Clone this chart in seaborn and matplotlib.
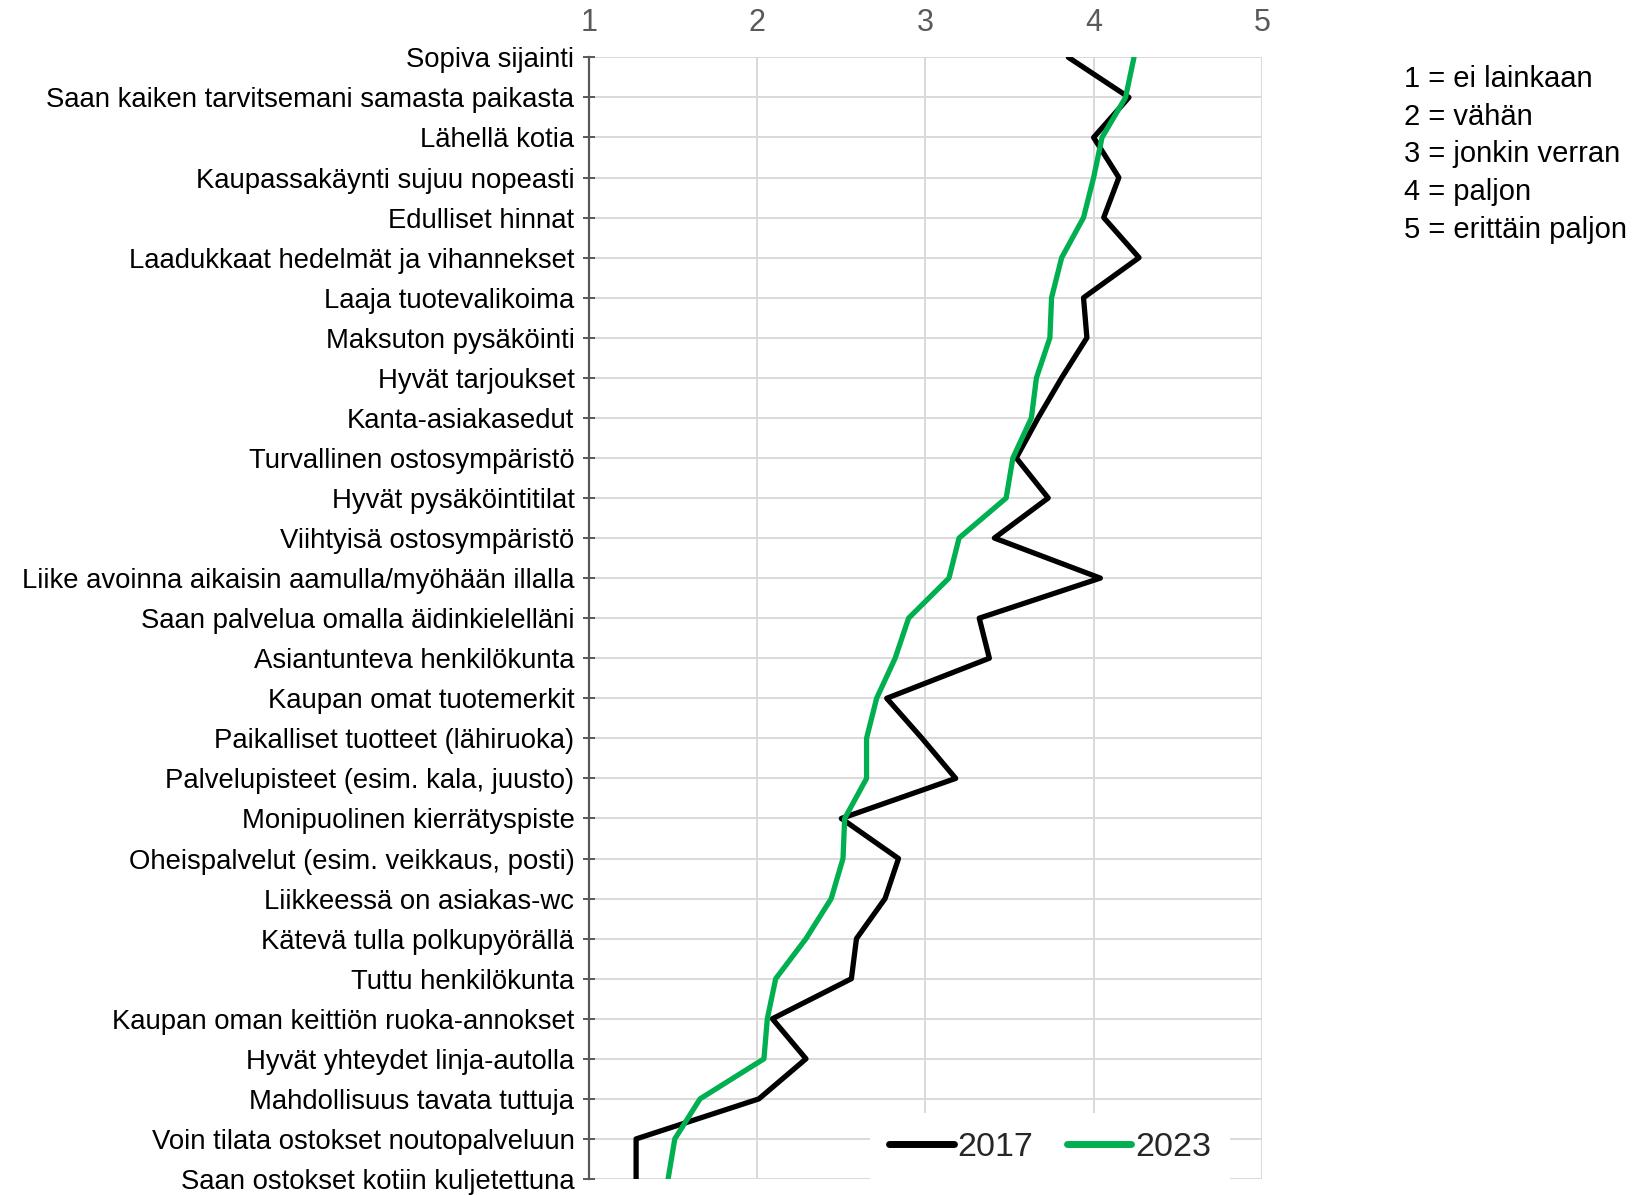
import matplotlib
matplotlib.use('Agg')
import matplotlib.pyplot as plt
import pandas as pd
import seaborn as sns

# Items (top to bottom) and mean scores
items = [
    'Sopiva sijainti',
    'Saan kaiken tarvitsemani samasta paikasta',
    'Lähellä kotia',
    'Kaupassakäynti sujuu nopeasti',
    'Edulliset hinnat',
    'Laadukkaat hedelmät ja vihannekset',
    'Laaja tuotevalikoima',
    'Maksuton pysäköinti',
    'Hyvät tarjoukset',
    'Kanta-asiakasedut',
    'Turvallinen ostosympäristö',
    'Hyvät pysäköintitilat',
    'Viihtyisä ostosympäristö',
    'Liike avoinna aikaisin aamulla/myöhään illalla',
    'Saan palvelua omalla äidinkielelläni',
    'Asiantunteva henkilökunta',
    'Kaupan omat tuotemerkit',
    'Paikalliset tuotteet (lähiruoka)',
    'Palvelupisteet (esim. kala, juusto)',
    'Monipuolinen kierrätyspiste',
    'Oheispalvelut (esim. veikkaus, posti)',
    'Liikkeessä on asiakas-wc',
    'Kätevä tulla polkupyörällä',
    'Tuttu henkilökunta',
    'Kaupan oman keittiön ruoka-annokset',
    'Hyvät yhteydet linja-autolla',
    'Mahdollisuus tavata tuttuja',
    'Voin tilata ostokset noutopalveluun',
    'Saan ostokset kotiin kuljetettuna',
]
values_2017 = [3.85, 4.21, 4.00, 4.15, 4.06, 4.27, 3.94, 3.96, 3.81, 3.67,
               3.54, 3.73, 3.41, 4.04, 3.32, 3.38, 2.77, 2.98, 3.18, 2.50,
               2.84, 2.76, 2.59, 2.56, 2.09, 2.29, 2.01, 1.28, 1.28]
values_2023 = [4.24, 4.19, 4.05, 4.00, 3.94, 3.81, 3.75, 3.74, 3.66, 3.63,
               3.52, 3.48, 3.20, 3.14, 2.90, 2.82, 2.71, 2.65, 2.65, 2.52,
               2.51, 2.44, 2.29, 2.11, 2.06, 2.04, 1.66, 1.51, 1.47]
years = ['2017', '2023']
scale_text = ['1 = ei lainkaan', '2 = vähän', '3 = jonkin verran',
              '4 = paljon', '5 = erittäin paljon']

df = pd.DataFrame({
    'item': items * 2,
    'value': values_2017 + values_2023,
    'year': [years[0]] * len(items) + [years[1]] * len(items),
})

sns.set_style('whitegrid')
plt.rcParams['font.family'] = ['Liberation Sans', 'DejaVu Sans']

fig = plt.figure(figsize=(16.43, 11.95), dpi=100)
ax = fig.add_axes([0.3585, 0.0134, 0.4095, 0.9386])

sns.lineplot(data=df, x='value', y='item', hue='year', orient='y', sort=False,
             palette={'2017': 'black', '2023': '#00B050'}, linewidth=3.8,
             ax=ax)

ax.set_xlim(1, 5)
ax.set_ylim(len(items) - 1, 0)
ax.set_xticks([1, 2, 3, 4, 5])
ax.xaxis.tick_top()
ax.tick_params(axis='x', length=0, pad=14, labelsize=22, labelcolor='#595959')
ax.tick_params(axis='y', direction='inout', length=9, width=1.4,
               color='#595959', labelsize=19.8, labelcolor='black', pad=6,
               left=True)
ax.set_xlabel('')
ax.set_ylabel('')
ax.grid(True, color='#d9d9d9', linewidth=1.4)
for side in ['top', 'right', 'bottom']:
  ax.spines[side].set_visible(False)
ax.spines['left'].set_color('#595959')
ax.spines['left'].set_linewidth(1.6)

leg = ax.legend(loc='center', bbox_to_anchor=(0.685, 0.028), ncol=2,
                frameon=True, fancybox=False, framealpha=1, fontsize=24.5,
                handlelength=1.9, handletextpad=0.1, columnspacing=1.0,
                borderpad=0.55)
leg.get_frame().set_edgecolor('none')
leg.get_frame().set_facecolor('white')
for line in leg.get_lines():
  line.set_linewidth(5)

for i, txt in enumerate(scale_text):
  fig.text(0.8546, 0.934 - i * 0.0316, txt, fontsize=21, va='center',
           ha='left', color='black')

fig.savefig('out.png', dpi=100)
